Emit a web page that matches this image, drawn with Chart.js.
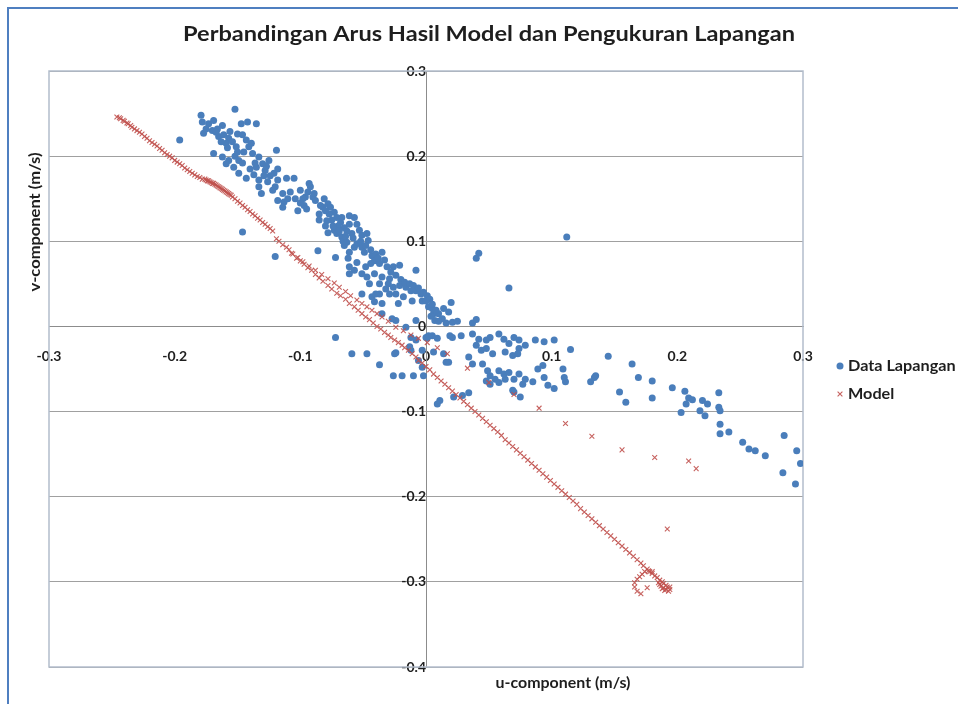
<!DOCTYPE html>
<html>
<head>
<meta charset="utf-8">
<script src="https://cdn.jsdelivr.net/npm/chart.js@4.4.1/dist/chart.umd.min.js"></script>
<style>
  html, body { margin: 0; padding: 0; background: #fff; overflow: hidden; }
  #wrap { position: relative; width: 958px; height: 704px; overflow: hidden; }
  #frame { position: absolute; left: 7px; top: 7px; width: 2000px; height: 2000px;
           border-left: 2px solid #4f7fc0; border-top: 2px solid #4f7fc0; pointer-events: none; }
</style>
</head>
<body>
<div id="wrap">
  <canvas id="chart" width="958" height="704"></canvas>
  <div id="frame"></div>
</div>
<script>
// ── Perbandingan arus: data lapangan vs model (u/v components, m/s) ─────────

const TITLE = 'Perbandingan Arus Hasil Model dan Pengukuran Lapangan';
const X_TITLE = 'u-component (m/s)';
const Y_TITLE = 'v-component (m/s)';
const SERIES = ['Data Lapangan', 'Model'];
const X_RANGE = [-0.3, 0.3];
const Y_RANGE = [-0.4, 0.3];
const TICK_STEP = 0.1;

const lapanganU = [
  -0.152, -0.179, -0.178, -0.173, -0.169, -0.196, -0.177, -0.162, -0.147, -0.142, -0.135, -0.146, -0.143, -0.165, -0.161,
  -0.157, -0.159, -0.154, -0.163, -0.151, -0.169, -0.162, -0.157, -0.153, -0.159, -0.149, -0.143, -0.149, -0.141, -0.138,
  -0.133, -0.130, -0.135, -0.125, -0.119, -0.128, -0.124, -0.118, -0.129, -0.133, -0.118, -0.111, -0.105, -0.120, -0.114,
  -0.118, -0.113, -0.133, -0.131, -0.114, -0.102, -0.146, -0.120, -0.093, -0.092, -0.096, -0.090, -0.098, -0.088, -0.085,
  -0.081, -0.078, -0.082, -0.076, -0.073, -0.077, -0.071, -0.067, -0.061, -0.057, -0.055, -0.061, -0.065, -0.073, -0.071,
  -0.067, -0.063, -0.059, -0.053, -0.051, -0.047, -0.046, -0.051, -0.057, -0.061, -0.065, -0.049, -0.043, -0.041, -0.037,
  -0.035, -0.044, -0.061, -0.057, -0.061, -0.051, -0.047, -0.041, -0.035, -0.029, -0.026, -0.021, -0.008, -0.037, -0.032,
  -0.026, -0.021, -0.016, -0.012, -0.024, -0.018, -0.029, -0.037, -0.043, -0.041, -0.008, -0.004, -0.003, 0.002, 0.006,
  0.005, 0.010, 0.013, 0.007, -0.011, -0.008, -0.024, -0.086, -0.072, -0.051, -0.040, -0.035, -0.022, -0.035, -0.027,
  -0.016, -0.012, -0.072, -0.059, -0.047, -0.037, -0.026, -0.024, -0.010, -0.002, -0.008, -0.012, -0.006, 0.000, 0.002,
  0.006, 0.009, 0.011, -0.003, -0.013, -0.019, -0.025, 0.001, 0.009, 0.016, 0.019, -0.003, 0.112, 0.042, 0.040,
  0.066, 0.001, 0.003, 0.005, 0.008, 0.004, 0.020, 0.018, 0.014, 0.010, 0.016, 0.021, 0.025, 0.037, 0.040,
  0.005, 0.021, 0.028, 0.037, 0.042, 0.048, 0.051, 0.058, 0.040, 0.044, 0.048, 0.053, 0.062, 0.066, 0.070,
  0.074, 0.079, 0.074, 0.063, 0.069, 0.073, 0.087, 0.094, 0.102, 0.115, 0.014, 0.018, 0.034, 0.037, 0.045,
  0.049, 0.051, 0.055, 0.048, 0.051, 0.058, 0.063, 0.058, 0.062, 0.066, 0.070, 0.074, 0.079, 0.077, 0.069,
  0.075, 0.085, 0.094, 0.097, 0.089, 0.093, 0.102, 0.109, 0.110, 0.111, 0.131, 0.134, 0.135, 0.145, 0.154,
  0.159, 0.164, 0.169, 0.180, 0.180, 0.196, 0.206, 0.209, 0.212, 0.207, 0.203, 0.220, 0.224, 0.218, 0.222,
  0.233, 0.233, 0.234, 0.234, 0.241, 0.234, 0.252, 0.257, 0.262, 0.270, 0.285, 0.295, 0.298, 0.284, 0.294,
  0.022, 0.029, 0.034, 0.070,
  -0.068, -0.063, -0.058, -0.055, -0.052, -0.048, -0.044, -0.040, -0.038, -0.033, -0.031, -0.028, -0.024, -0.020, -0.017,
  -0.013, -0.010, -0.006, -0.002, 0.000, -0.066, -0.070, -0.075, -0.080, -0.084, -0.089, -0.094, -0.100, -0.170, -0.166,
  -0.156, -0.150, -0.139, -0.136, -0.127, -0.121, -0.145, -0.152, -0.108, -0.104, -0.097, -0.079, -0.074, -0.069, -0.064,
  -0.175, -0.167, -0.158, -0.150, -0.146, -0.140, -0.137, -0.126, -0.122, -0.110, -0.100, -0.095, -0.085, -0.080, -0.078,
  -0.062, -0.055, -0.048, -0.045, -0.030
];
const lapanganV = [
  0.255, 0.248, 0.240, 0.238, 0.242, 0.219, 0.227, 0.236, 0.238, 0.240, 0.238, 0.225, 0.219, 0.223, 0.225,
  0.221, 0.215, 0.217, 0.217, 0.211, 0.203, 0.199, 0.195, 0.187, 0.191, 0.180, 0.174, 0.195, 0.211, 0.203,
  0.199, 0.191, 0.187, 0.195, 0.207, 0.183, 0.177, 0.185, 0.177, 0.172, 0.172, 0.174, 0.174, 0.164, 0.156,
  0.148, 0.146, 0.164, 0.156, 0.140, 0.136, 0.111, 0.082, 0.168, 0.164, 0.152, 0.152, 0.150, 0.148, 0.132,
  0.150, 0.144, 0.140, 0.140, 0.134, 0.132, 0.128, 0.128, 0.130, 0.128, 0.120, 0.120, 0.116, 0.113, 0.109,
  0.105, 0.099, 0.109, 0.113, 0.107, 0.109, 0.101, 0.093, 0.093, 0.087, 0.095, 0.087, 0.083, 0.077, 0.074,
  0.087, 0.074, 0.070, 0.066, 0.062, 0.062, 0.058, 0.062, 0.058, 0.056, 0.070, 0.072, 0.066, 0.050, 0.044,
  0.046, 0.048, 0.046, 0.042, 0.038, 0.035, 0.038, 0.038, 0.035, 0.029, 0.042, 0.038, 0.030, 0.023, 0.015,
  0.021, 0.015, 0.009, 0.007, 0.030, 0.007, 0.007, 0.089, 0.081, 0.038, 0.038, 0.027, 0.027, 0.015, 0.009,
  -0.001, -0.013, -0.013, -0.032, -0.032, -0.045, -0.058, -0.031, -0.058, -0.058, -0.016, -0.028, -0.040, -0.013, -0.011,
  -0.030, -0.091, -0.087, -0.028, -0.024, -0.058, -0.032, -0.014, -0.014, -0.042, -0.011, -0.048, 0.105, 0.086, 0.080,
  0.045, 0.036, 0.032, 0.026, 0.019, 0.012, 0.028, 0.017, 0.021, 0.006, 0.004, 0.005, 0.006, 0.004, 0.008,
  -0.011, -0.013, -0.011, -0.009, -0.015, -0.016, -0.013, -0.009, -0.022, -0.028, -0.026, -0.032, -0.015, -0.020, -0.013,
  -0.016, -0.022, -0.026, -0.030, -0.034, -0.032, -0.016, -0.018, -0.016, -0.027, -0.032, -0.042, -0.036, -0.044, -0.044,
  -0.052, -0.058, -0.062, -0.064, -0.068, -0.066, -0.062, -0.052, -0.056, -0.054, -0.062, -0.056, -0.062, -0.068, -0.075,
  -0.083, -0.065, -0.060, -0.069, -0.050, -0.046, -0.073, -0.050, -0.060, -0.065, -0.065, -0.060, -0.058, -0.035, -0.077,
  -0.089, -0.044, -0.060, -0.064, -0.084, -0.072, -0.076, -0.084, -0.086, -0.091, -0.101, -0.087, -0.091, -0.099, -0.105,
  -0.078, -0.095, -0.099, -0.115, -0.124, -0.126, -0.136, -0.144, -0.146, -0.152, -0.128, -0.146, -0.161, -0.172, -0.185,
  -0.083, -0.081, -0.078, -0.077,
  0.122, 0.112, 0.104, 0.097, 0.100, 0.095, 0.090, 0.085, 0.080, 0.078, 0.070, 0.064, 0.060, 0.055, 0.052,
  0.050, 0.048, 0.045, 0.040, 0.030, 0.100, 0.118, 0.125, 0.136, 0.142, 0.156, 0.158, 0.160, 0.230, 0.232,
  0.229, 0.226, 0.215, 0.192, 0.188, 0.180, 0.205, 0.200, 0.158, 0.150, 0.142, 0.124, 0.118, 0.112, 0.106,
  0.232, 0.228, 0.210, 0.205, 0.192, 0.185, 0.178, 0.170, 0.160, 0.150, 0.145, 0.138, 0.125, 0.118, 0.110,
  0.080, 0.075, 0.070, 0.050, 0.050
];

// model output (dense main track, end loop, upper branch)
const modelU = [
  -0.246, -0.244, -0.243, -0.241, -0.240, -0.238, -0.237, -0.235, -0.234, -0.232, -0.230, -0.228, -0.226, -0.224, -0.222,
  -0.220, -0.218, -0.216, -0.214, -0.212, -0.210, -0.208, -0.206, -0.204, -0.202, -0.200, -0.198, -0.196, -0.194, -0.192,
  -0.190, -0.188, -0.186, -0.184, -0.182, -0.180, -0.178, -0.176, -0.175, -0.174, -0.173, -0.172, -0.171, -0.170, -0.169,
  -0.168, -0.167, -0.166, -0.165, -0.164, -0.163, -0.162, -0.161, -0.160, -0.159, -0.158, -0.157, -0.156, -0.155, -0.154,
  -0.152, -0.150, -0.148, -0.146, -0.144, -0.142, -0.140, -0.138, -0.136, -0.134, -0.132, -0.130, -0.128, -0.126, -0.124,
  -0.122, -0.119, -0.117, -0.114, -0.111, -0.109, -0.106, -0.103, -0.100, -0.097, -0.094, -0.091, -0.088, -0.085, -0.082,
  -0.078, -0.075, -0.071, -0.068, -0.064, -0.061, -0.057, -0.054, -0.051, -0.048, -0.045, -0.042, -0.039, -0.036, -0.033,
  -0.030, -0.028, -0.025, -0.022, -0.019, -0.017, -0.014, -0.011, -0.008, -0.006, -0.003, 0.000, 0.003, 0.006, 0.009,
  0.012, 0.015, 0.018, 0.021, 0.024, 0.027, 0.030, 0.033, 0.036, 0.039, 0.042, 0.045, 0.048, 0.051, 0.054,
  0.057, 0.060, 0.063, 0.066, 0.069, 0.072, 0.075, 0.078, 0.081, 0.084, 0.087, 0.090, 0.093, 0.096, 0.099,
  0.102, 0.105, 0.108, 0.111, 0.114, 0.117, 0.120, 0.123, 0.126, 0.129, 0.132, 0.135, 0.138, 0.141, 0.144,
  0.147, 0.150, 0.153, 0.156, 0.159, 0.162, 0.165, 0.168, 0.171, 0.173, 0.176, 0.178, 0.180, 0.182, 0.184,
  0.186, 0.188, 0.189, 0.191, 0.192, 0.194, 0.193, 0.190, 0.188, 0.187, 0.186, 0.185, 0.189, 0.191, 0.194,
  0.180, 0.177, 0.174, 0.172, 0.170, 0.168, 0.166, 0.166, 0.168, 0.171, 0.176,
  -0.107, -0.102, -0.098, -0.093, -0.088, -0.083, -0.078, -0.073, -0.069, -0.064, -0.060, -0.055, -0.051, -0.047, -0.043,
  -0.039, -0.035, -0.030, -0.024, -0.018, -0.012, -0.006, 0.001, 0.009, 0.017, 0.033, 0.050,
  0.070, 0.090, 0.111, 0.132, 0.156, 0.182, 0.209, 0.215, 0.192
];
const modelV = [
  0.246, 0.245, 0.244, 0.242, 0.241, 0.239, 0.238, 0.236, 0.234, 0.232, 0.230, 0.228, 0.226, 0.223, 0.221,
  0.218, 0.216, 0.214, 0.212, 0.209, 0.207, 0.204, 0.202, 0.200, 0.198, 0.195, 0.193, 0.191, 0.189, 0.186,
  0.184, 0.182, 0.180, 0.178, 0.176, 0.175, 0.173, 0.173, 0.172, 0.171, 0.171, 0.170, 0.169, 0.168, 0.168,
  0.167, 0.166, 0.165, 0.164, 0.163, 0.162, 0.161, 0.160, 0.159, 0.158, 0.157, 0.156, 0.155, 0.154, 0.152,
  0.150, 0.147, 0.145, 0.142, 0.140, 0.137, 0.135, 0.132, 0.130, 0.127, 0.125, 0.122, 0.120, 0.117, 0.115,
  0.112, 0.103, 0.100, 0.096, 0.093, 0.090, 0.085, 0.080, 0.077, 0.073, 0.069, 0.066, 0.061, 0.057, 0.053,
  0.048, 0.044, 0.039, 0.036, 0.032, 0.027, 0.023, 0.019, 0.015, 0.011, 0.008, 0.004, 0.000, -0.003, -0.007,
  -0.010, -0.013, -0.016, -0.019, -0.022, -0.025, -0.028, -0.032, -0.036, -0.040, -0.043, -0.047, -0.051, -0.056, -0.060,
  -0.064, -0.068, -0.072, -0.076, -0.080, -0.084, -0.088, -0.092, -0.096, -0.100, -0.104, -0.108, -0.112, -0.116, -0.120,
  -0.124, -0.128, -0.133, -0.137, -0.141, -0.145, -0.149, -0.153, -0.157, -0.161, -0.165, -0.169, -0.173, -0.177, -0.181,
  -0.185, -0.189, -0.193, -0.197, -0.201, -0.205, -0.209, -0.214, -0.218, -0.222, -0.226, -0.230, -0.234, -0.238, -0.242,
  -0.246, -0.250, -0.254, -0.258, -0.262, -0.266, -0.270, -0.274, -0.278, -0.281, -0.285, -0.288, -0.290, -0.293, -0.295,
  -0.298, -0.300, -0.302, -0.304, -0.306, -0.309, -0.311, -0.310, -0.308, -0.305, -0.303, -0.301, -0.307, -0.309, -0.306,
  -0.288, -0.287, -0.288, -0.291, -0.294, -0.297, -0.301, -0.306, -0.311, -0.314, -0.307,
  0.086, 0.081, 0.076, 0.071, 0.066, 0.061, 0.056, 0.051, 0.046, 0.041, 0.036, 0.031, 0.027, 0.023, 0.019,
  0.015, 0.011, 0.006, -0.001, -0.005, -0.010, -0.014, -0.019, -0.025, -0.032, -0.049, -0.066,
  -0.080, -0.096, -0.114, -0.129, -0.145, -0.154, -0.158, -0.167, -0.238
];

const BLUE = '#4a7ebb';
const RED = 'rgba(192,80,77,0.9)';
const FONT = "Lato, 'Open Sans', sans-serif";
const INK = '#1e1e1e';

const toPoints = (us, vs) => us.map((u, i) => ({ x: u, y: vs[i] }));
const fmtTick = v => String(Math.round(v * 10) / 10);

// draw text centred/left at (x, y), squeezed or stretched to a target width
function fitText(ctx, text, x, y, width, align) {
  const w = ctx.measureText(text).width;
  ctx.save();
  ctx.translate(x, y);
  ctx.scale(width / w, 1);
  ctx.textAlign = align;
  ctx.fillText(text, 0, 0);
  ctx.restore();
}

// plot frame, titles and legend, Excel style
const decorPlugin = {
  id: 'decor',
  beforeDatasetsDraw(chart) {
    const { ctx, chartArea: a } = chart;
    ctx.save();
    ctx.strokeStyle = '#b3bdcc';
    ctx.lineWidth = 1.5;
    ctx.strokeRect(a.left, a.top, a.right - a.left, a.bottom - a.top);
    ctx.restore();
  },
  afterDraw(chart) {
    const { ctx, chartArea: a } = chart;
    const lx = a.right + 37;
    const rows = [366, 394];

    // legend markers, drawn with the series' own style
    chart.data.datasets.forEach((ds, i) => {
      ctx.save();
      ctx.fillStyle = ds.backgroundColor;
      ctx.strokeStyle = ds.borderColor;
      ctx.lineWidth = ds.borderWidth || 1;
      Chart.helpers.drawPoint(ctx, { pointStyle: ds.pointStyle, radius: ds.pointRadius, borderWidth: ds.borderWidth, rotation: 0 }, lx, rows[i]);
      ctx.restore();
    });

    ctx.save();
    ctx.fillStyle = INK;
    ctx.textBaseline = 'middle';
    ctx.font = `bold 21px ${FONT}`;
    fitText(ctx, TITLE, 489, 34, 612, 'center');

    ctx.font = `bold 15px ${FONT}`;
    fitText(ctx, X_TITLE, 563, 683, 135, 'center');
    ctx.save();
    ctx.translate(35, 222);
    ctx.rotate(-Math.PI / 2);
    fitText(ctx, Y_TITLE, 0, 0, 139, 'center');
    ctx.restore();

    chart.data.datasets.forEach((ds, i) => {
      const w = ctx.measureText(ds.label).width * 107 / 99;
      fitText(ctx, ds.label, lx + 8, rows[i], w, 'left');
    });
    ctx.restore();
  }
};

const tickFont = { family: FONT, size: 14, weight: 'bold' };

new Chart(document.getElementById('chart').getContext('2d'), {
  type: 'scatter',
  data: {
    datasets: [
      { label: SERIES[0], data: toPoints(lapanganU, lapanganV), pointStyle: 'circle', pointRadius: 3.5,
        backgroundColor: BLUE, borderColor: BLUE, borderWidth: 0, order: 1 },
      { label: SERIES[1], data: toPoints(modelU, modelV), pointStyle: 'crossRot', pointRadius: 3.4,
        backgroundColor: RED, borderColor: RED, borderWidth: 1.1, order: 0 }
    ]
  },
  options: {
    responsive: false,
    animation: false,
    layout: { padding: { left: 49, right: 155, top: 71, bottom: 37 } },
    plugins: { legend: { display: false }, title: { display: false }, tooltip: { enabled: false } },
    scales: {
      x: {
        type: 'linear', min: X_RANGE[0], max: X_RANGE[1], position: { y: 0 },
        grid: { display: false },
        border: { display: true, color: '#8c8c8c', width: 1 },
        ticks: { stepSize: TICK_STEP, padding: 14, maxRotation: 0, autoSkip: false, color: INK, font: tickFont, callback: fmtTick }
      },
      y: {
        type: 'linear', min: Y_RANGE[0], max: Y_RANGE[1], position: { x: 0 },
        grid: { color: '#a0a0a0', drawTicks: false },
        border: { display: true, color: '#8c8c8c', width: 1 },
        ticks: { stepSize: TICK_STEP, padding: 16, autoSkip: false, color: INK, font: tickFont, callback: fmtTick }
      }
    }
  },
  plugins: [decorPlugin]
});
</script>
</body>
</html>
